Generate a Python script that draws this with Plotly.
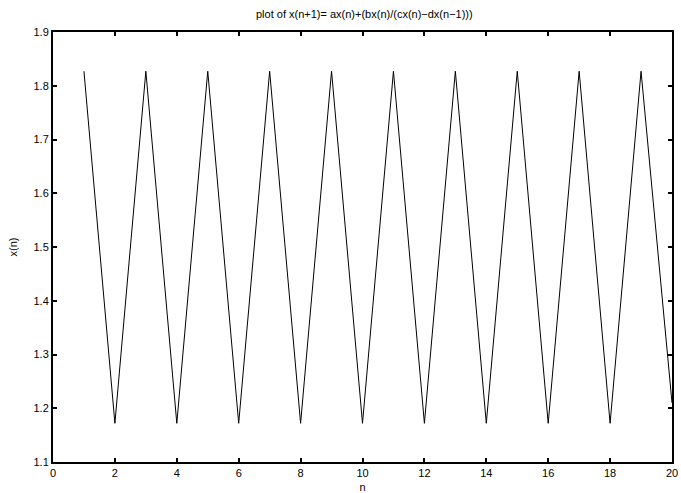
import plotly.graph_objects as go

n = list(range(1, 21))
x_vals = [1.827, 1.172, 1.827, 1.172, 1.827, 1.172, 1.827, 1.172, 1.827, 1.172,
          1.827, 1.172, 1.827, 1.172, 1.827, 1.172, 1.827, 1.172, 1.827, 1.21]

x_ticks = list(range(0, 21, 2))
y_ticks = [1.1, 1.2, 1.3, 1.4, 1.5, 1.6, 1.7, 1.8, 1.9]

FONT = dict(family="Liberation Sans, Arial, sans-serif", size=11, color="black")

fig = go.Figure(go.Scatter(x=n, y=x_vals, mode="lines",
                           line=dict(color="black", width=1)))

axis_common = dict(showline=True, linecolor="black", linewidth=2, mirror="ticks",
                   ticks="inside", ticklen=4, tickwidth=2, tickcolor="black",
                   showgrid=False, zeroline=False, tickfont=FONT, automargin=False)

fig.update_layout(
    width=681, height=493,
    margin=dict(l=53, r=9, t=32, b=31),
    paper_bgcolor="white", plot_bgcolor="white",
    showlegend=False,
    title=dict(text="plot of x(n+1)= ax(n)+(bx(n)/(cx(n)\u2212dx(n\u22121)))",
               x=0.535, xanchor="center", y=0.972, yanchor="middle", font=FONT),
    xaxis=dict(range=[0, 20], tickvals=x_ticks, ticktext=[str(v) for v in x_ticks],
               title=dict(text="n", standoff=7, font=FONT), **axis_common),
    yaxis=dict(range=[1.1, 1.9], tickvals=y_ticks, ticktext=[f"{v:.1f}" for v in y_ticks],
               title=dict(text="x(n)", standoff=14, font=FONT), **axis_common),
)

fig.write_html("out.html")
